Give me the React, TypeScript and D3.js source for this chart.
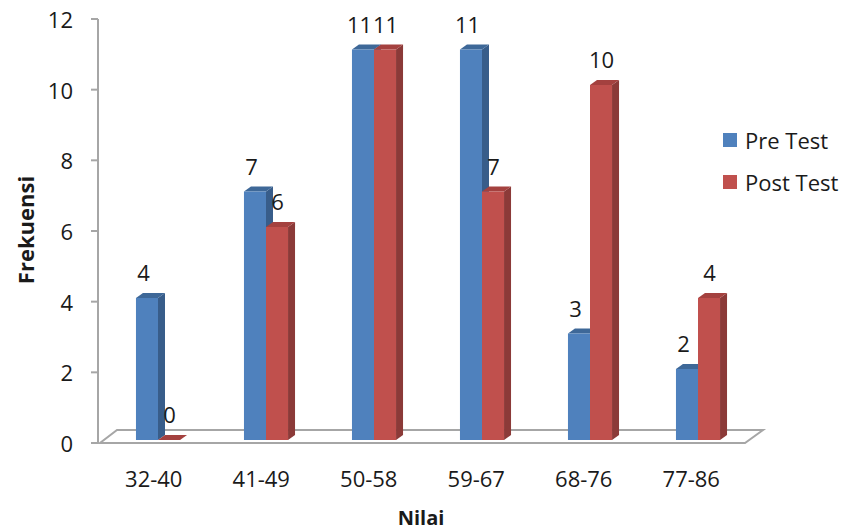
import React from "react";
import * as d3 from "d3";

const categories = ["32-40", "41-49", "50-58", "59-67", "68-76", "77-86"];
const preTest = [4, 7, 11, 11, 3, 2];
const postTest = [0, 6, 11, 7, 10, 4];
const yTicks = [0, 2, 4, 6, 8, 10, 12];
const seriesNames = ["Pre Test", "Post Test"];

const W = 856;
const H = 531;
const FONT = "'Open Sans', sans-serif";

const colors = [
  { front: "#4F81BD", side: "#385D8A", top: "#3E6898" },
  { front: "#C0504D", side: "#8B3A38", top: "#A4413F" },
];

export default function App() {
  const yAxis = d3.scaleLinear().domain([0, 12]).range([443, 19]);
  const yBar = d3.scaleLinear().domain([0, 12]).range([440, 440 - 12 * 35.5]);
  const xFront = d3.scaleBand<string>().domain(categories).range([100, 745]);
  const xBars = d3.scaleBand<string>().domain(categories).range([104, 752]);
  const barW = xBars.bandwidth() * 0.204;
  const dx = 7;
  const dy = -5;

  const floor = [
    [100, 443],
    [745, 443],
    [763, 430],
    [117, 430],
  ];

  const series = [preTest, postTest];
  const labelShift = [-3.5, 0.5];

  return (
    <div style={{ position: "absolute", left: 0, top: 0 }}>
      <svg width={W} height={H} style={{ display: "block", background: "#fff" }}>
        {/* floor */}
        <polygon
          points={floor.map((p) => p.join(",")).join(" ")}
          fill="#fff"
          stroke="#A6A6A6"
          strokeWidth={2}
        />
        {/* y axis */}
        <line x1={98} x2={98} y1={yAxis(12)} y2={yAxis(0)} stroke="#A6A6A6" strokeWidth={2} />
        {yTicks.map((t) => (
          <g key={t}>
            <line x1={91} x2={98} y1={yAxis(t)} y2={yAxis(t)} stroke="#A6A6A6" strokeWidth={2} />
            <text
              x={73}
              y={yAxis(t)}
              textAnchor="end"
              dominantBaseline="central"
              fontFamily={FONT}
              fontSize={22}
              fill="#1a1a1a"
            >
              {t}
            </text>
          </g>
        ))}
        {/* bars */}
        {categories.map((c, i) => {
          const center = (xBars(c) as number) + xBars.bandwidth() / 2;
          return (
            <g key={c}>
              {series.map((s, si) => {
                const v = s[i];
                const x0 = center - barW + si * barW;
                const x1 = x0 + barW;
                const yT = yBar(v);
                const yB = yBar(0);
                const col = colors[si];
                return (
                  <g key={si}>
                    <polygon
                      points={`${x1},${yT} ${x1 + dx},${yT + dy} ${x1 + dx},${yB + dy} ${x1},${yB}`}
                      fill={col.side}
                    />
                    <polygon
                      points={`${x0},${yT} ${x0 + dx},${yT + dy} ${x1 + dx},${yT + dy} ${x1},${yT}`}
                      fill={col.top}
                    />
                    {v > 0 && <rect x={x0} y={yT} width={barW} height={yB - yT} fill={col.front} />}
                  </g>
                );
              })}
            </g>
          );
        })}
        {/* value labels */}
        {categories.map((c, i) => {
          const center = (xBars(c) as number) + xBars.bandwidth() / 2;
          return series.map((s, si) => {
            const v = s[i];
            const x0 = center - barW + si * barW;
            return (
              <text
                key={c + si}
                x={x0 + barW / 2 + labelShift[si]}
                y={yBar(v) - 26}
                textAnchor="middle"
                dominantBaseline="central"
                fontFamily={FONT}
                fontSize={22}
                fill="#1a1a1a"
              >
                {v}
              </text>
            );
          });
        })}
        {/* category labels */}
        {categories.map((c) => (
          <text
            key={c}
            x={(xFront(c) as number) + xFront.bandwidth() / 2}
            y={478}
            textAnchor="middle"
            dominantBaseline="central"
            fontFamily={FONT}
            fontSize={22}
            fill="#1a1a1a"
          >
            {c}
          </text>
        ))}
        {/* axis titles */}
        <text
          x={421}
          y={525}
          textAnchor="middle"
          fontFamily={FONT}
          fontWeight="bold"
          fontSize={20}
          fill="#1a1a1a"
        >
          Nilai
        </text>
        <text
          transform="translate(25,230) rotate(-90)"
          textAnchor="middle"
          dominantBaseline="central"
          fontFamily={FONT}
          fontWeight="bold"
          fontSize={22}
          fill="#1a1a1a"
        >
          Frekuensi
        </text>
        {/* legend */}
        {seriesNames.map((n, i) => (
          <g key={n} transform={`translate(723, ${133 + i * 42})`}>
            <rect x={0} y={0} width={14} height={14} fill={colors[i].front} />
            <text
              x={22}
              y={7}
              dominantBaseline="central"
              fontFamily={FONT}
              fontSize={22}
              fill="#1a1a1a"
            >
              {n}
            </text>
          </g>
        ))}
      </svg>
    </div>
  );
}
